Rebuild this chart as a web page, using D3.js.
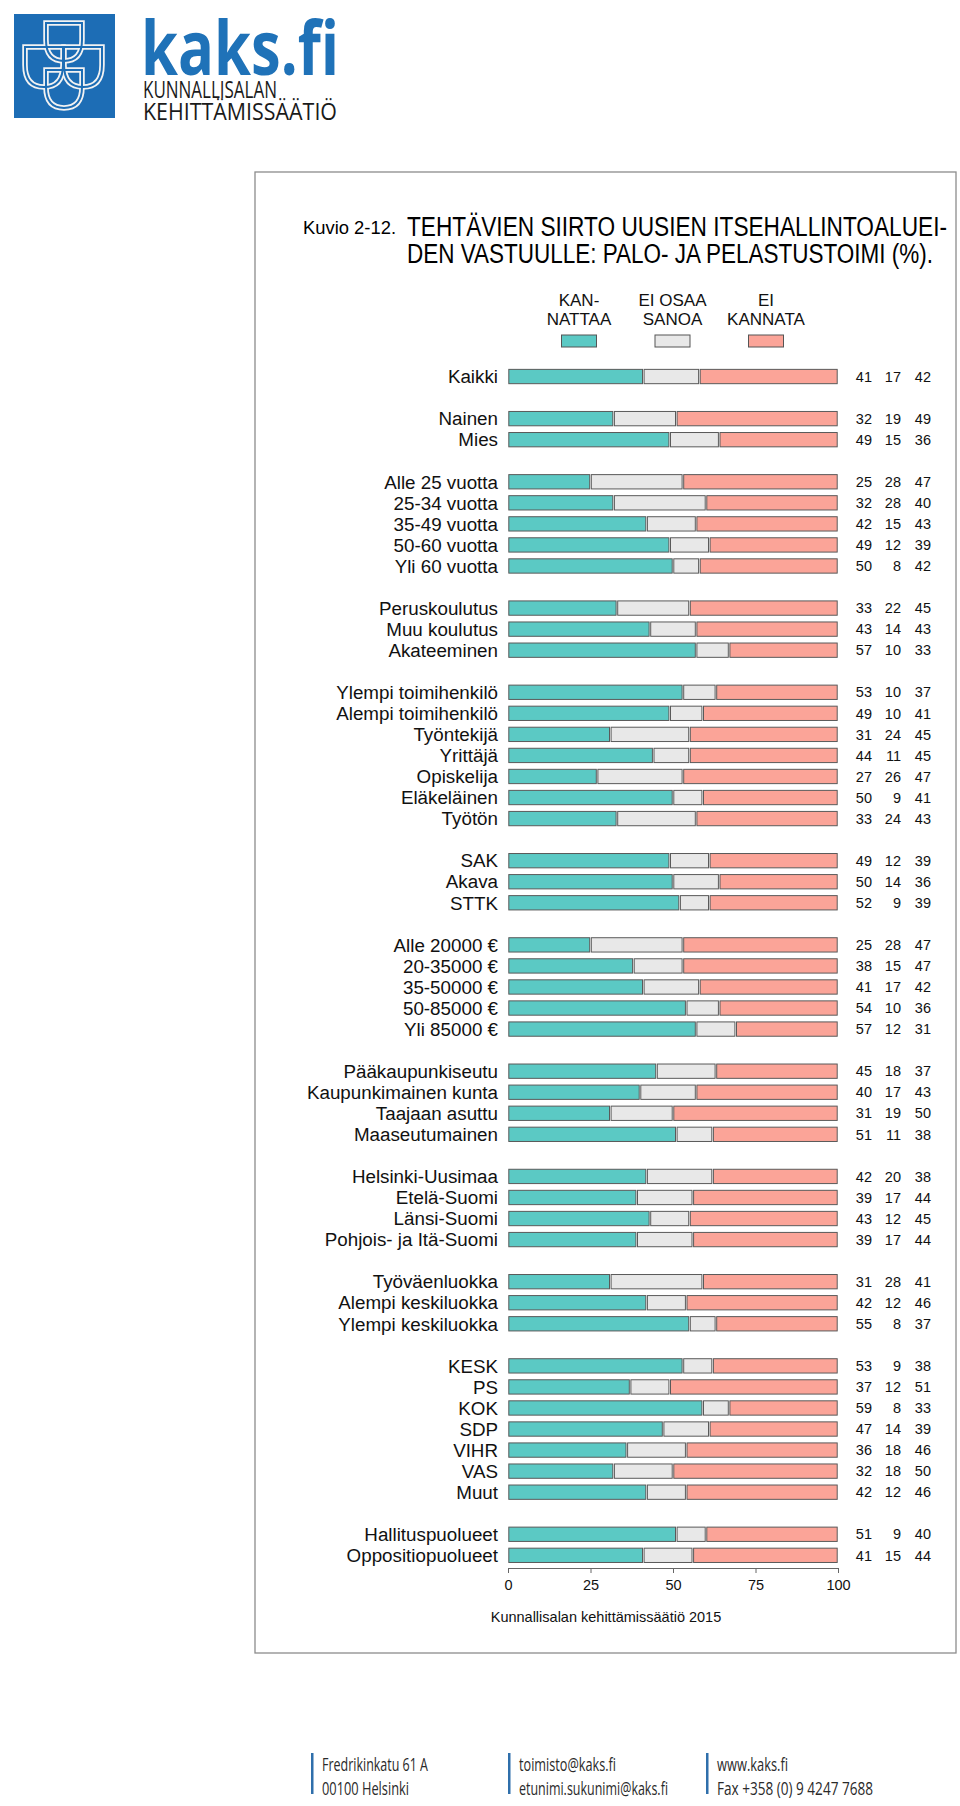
<!DOCTYPE html>
<html>
<head>
<meta charset="utf-8">
<script src="https://cdn.jsdelivr.net/npm/d3@7"></script>
<style>
  body { margin: 0; background: #fff; }
  svg { display: block; }
</style>
</head>
<body>
<svg id="chart" width="960" height="1806"></svg>
<script>
// --- data ---
const categories = [
  "Kaikki",
  "Nainen", "Mies",
  "Alle 25 vuotta", "25-34 vuotta", "35-49 vuotta", "50-60 vuotta", "Yli 60 vuotta",
  "Peruskoulutus", "Muu koulutus", "Akateeminen",
  "Ylempi toimihenkilö", "Alempi toimihenkilö", "Työntekijä", "Yrittäjä", "Opiskelija", "Eläkeläinen", "Työtön",
  "SAK", "Akava", "STTK",
  "Alle 20000 €", "20-35000 €", "35-50000 €", "50-85000 €", "Yli 85000 €",
  "Pääkaupunkiseutu", "Kaupunkimainen kunta", "Taajaan asuttu", "Maaseutumainen",
  "Helsinki-Uusimaa", "Etelä-Suomi", "Länsi-Suomi", "Pohjois- ja Itä-Suomi",
  "Työväenluokka", "Alempi keskiluokka", "Ylempi keskiluokka",
  "KESK", "PS", "KOK", "SDP", "VIHR", "VAS", "Muut",
  "Hallituspuolueet", "Oppositiopuolueet"
];
const kannattaa = [41, 32, 49, 25, 32, 42, 49, 50, 33, 43, 57, 53, 49, 31, 44, 27, 50, 33, 49, 50, 52,
  25, 38, 41, 54, 57, 45, 40, 31, 51, 42, 39, 43, 39, 31, 42, 55, 53, 37, 59, 47, 36, 32, 42, 51, 41];
const eiOsaaSanoa = [17, 19, 15, 28, 28, 15, 12, 8, 22, 14, 10, 10, 10, 24, 11, 26, 9, 24, 12, 14, 9,
  28, 15, 17, 10, 12, 18, 17, 19, 11, 20, 17, 12, 17, 28, 12, 8, 9, 12, 8, 14, 18, 18, 12, 9, 15];
const eiKannata = [42, 49, 36, 47, 40, 43, 39, 42, 45, 43, 33, 37, 41, 45, 45, 47, 41, 43, 39, 36, 39,
  47, 47, 42, 36, 31, 37, 43, 50, 38, 38, 44, 45, 44, 41, 46, 37, 38, 51, 33, 39, 46, 50, 46, 40, 44];
const groupSizes = [1, 2, 5, 3, 7, 3, 5, 4, 4, 3, 7, 2];
const seriesKeys = ["k", "e", "n"];
const seriesLabels = [["KAN-", "NATTAA"], ["EI OSAA", "SANOA"], ["EI", "KANNATA"]];
const seriesColors = ["#5bc9c4", "#e8e8e8", "#fba498"];
const xTicks = [0, 25, 50, 75, 100];

const svg = d3.select("#chart");
const narrow = "'Liberation Sans Narrow', 'Arial Narrow', 'Liberation Sans', Arial, sans-serif";
const sans = "'Liberation Sans', Arial, sans-serif";

// each group followed by one empty slot
const slots = [];
let s = 0;
groupSizes.forEach(n => { for (let i = 0; i < n; i++) slots.push(s++); s++; });
const nSlots = s - 1;

const rows = categories.map((c, i) => ({ name: c, slot: slots[i], k: kannattaa[i], e: eiOsaaSanoa[i], n: eiKannata[i] }));

const x = d3.scaleLinear().domain([0, 100]).range([508, 838]);
const step = 21.05;
const y = d3.scaleBand()
  .domain(d3.range(nSlots))
  .range([366, 366 + nSlots * step])
  .paddingInner(0.32)
  .paddingOuter(0.16);

// --- logo ---
const logo = svg.append("g");
logo.append("rect").attr("x", 14).attr("y", 14).attr("width", 101).attr("height", 104).attr("fill", "#1d6db5");
function shield(x0, y0, w, h) {
  return `M${x0},${y0}H${x0 + w}V${y0 + h * 0.45}Q${x0 + w},${y0 + h} ${x0 + w / 2},${y0 + h}Q${x0},${y0 + h} ${x0},${y0 + h * 0.45}Z`;
}
const shields = [[46, 23, 36, 38], [25, 47, 38, 40], [64, 47, 38, 40], [46, 70, 36, 38]];
logo.selectAll("path.sh").data(shields).enter().append("path")
  .attr("d", d => shield(...d)).attr("fill", "none").attr("stroke", "#f2f2f2").attr("stroke-width", 5.5);
logo.selectAll("path.in").data(shields).enter().append("path")
  .attr("d", d => shield(...d)).attr("fill", "none").attr("stroke", "#1d6db5").attr("stroke-width", 2);
logo.append("text").attr("x", 141).attr("y", 75).attr("textLength", 198).attr("lengthAdjust", "spacingAndGlyphs")
  .style("font-family", "'Open Sans', 'Noto Sans', sans-serif").style("font-weight", 700)
  .style("font-size", "76px").attr("fill", "#1f72b8").text("kaks.fi");
logo.append("text").attr("x", 143).attr("y", 98).attr("textLength", 134).attr("lengthAdjust", "spacingAndGlyphs")
  .style("font-family", "'Open Sans', sans-serif").style("font-size", "24px").attr("fill", "#1a1a1a").text("KUNNALLISALAN");
logo.append("text").attr("x", 143).attr("y", 120).attr("textLength", 194).attr("lengthAdjust", "spacingAndGlyphs")
  .style("font-family", "'Open Sans', sans-serif").style("font-size", "24px").attr("fill", "#1a1a1a").text("KEHITTÄMISSÄÄTIÖ");

// --- frame ---
svg.append("rect").attr("x", 255).attr("y", 172).attr("width", 701).attr("height", 1481)
  .attr("fill", "none").attr("stroke", "#8c8c8c").attr("stroke-width", 1.3);

// --- title ---
svg.append("text").attr("x", 303).attr("y", 234).attr("textLength", 93).attr("lengthAdjust", "spacingAndGlyphs")
  .style("font-family", narrow).style("font-size", "18.5px").text("Kuvio 2-12.");
svg.append("text").attr("x", 407).attr("y", 236).attr("textLength", 540).attr("lengthAdjust", "spacingAndGlyphs")
  .style("font-family", narrow).style("font-size", "27px").text("TEHTÄVIEN SIIRTO UUSIEN ITSEHALLINTOALUEI-");
svg.append("text").attr("x", 407).attr("y", 263).attr("textLength", 526).attr("lengthAdjust", "spacingAndGlyphs")
  .style("font-family", narrow).style("font-size", "27px").text("DEN VASTUULLE: PALO- JA PELASTUSTOIMI (%).");

// --- legend ---
const legendX = d3.scalePoint().domain(seriesKeys).range([579, 766]);
const legend = svg.append("g").selectAll("g").data(seriesKeys).enter().append("g");
legend.append("rect")
  .attr("x", d => legendX(d) - 17.5).attr("y", 335).attr("width", 35).attr("height", 12)
  .attr("fill", (d, i) => seriesColors[i]).attr("stroke", "#555").attr("stroke-width", 1);
legend.selectAll("text").data((d, i) => seriesLabels[i].map(t => ({ t, key: d }))).enter().append("text")
  .attr("x", d => legendX(d.key)).attr("y", (d, j) => 306 + j * 18.5)
  .attr("text-anchor", "middle").style("font-family", narrow).style("font-size", "17px").attr("fill", "#111")
  .text(d => d.t);

// --- bars ---
const stacked = d3.stack().keys(seriesKeys)(rows);
svg.append("g").selectAll("g").data(stacked).enter().append("g")
  .attr("fill", (d, i) => seriesColors[i])
  .selectAll("rect").data(d => d).enter().append("rect")
  .attr("x", d => x(d[0]) + 0.8)
  .attr("width", d => Math.max(0, x(d[1]) - x(d[0]) - 1.6))
  .attr("y", d => y(d.data.slot))
  .attr("height", y.bandwidth())
  .attr("stroke", "#5a5a5a").attr("stroke-width", 1);

// row labels
svg.append("g").selectAll("text").data(rows).enter().append("text")
  .attr("x", 498).attr("y", d => y(d.slot) + y.bandwidth() / 2).attr("dy", "0.36em")
  .attr("text-anchor", "end").style("font-family", sans).style("font-size", "18.8px").attr("fill", "#111")
  .text(d => d.name);

// value columns
const colX = d3.scaleOrdinal().domain(seriesKeys).range([872, 901, 931]);
svg.append("g").selectAll("g").data(rows).enter().append("g")
  .selectAll("text").data(d => seriesKeys.map(k => ({ k, v: d[k], slot: d.slot }))).enter().append("text")
  .attr("x", d => colX(d.k)).attr("y", d => y(d.slot) + y.bandwidth() / 2).attr("dy", "0.36em")
  .attr("text-anchor", "end").style("font-family", sans).style("font-size", "14.5px").attr("fill", "#111")
  .text(d => d.v);

// --- axis ---
const axis = svg.append("g").attr("transform", "translate(0,1568)")
  .call(d3.axisBottom(x).tickValues(xTicks).tickSize(5).tickSizeOuter(0).tickPadding(7));
axis.select(".domain").attr("stroke", "#666");
axis.selectAll(".tick line").attr("stroke", "#666");
axis.selectAll(".tick text").style("font-family", sans).style("font-size", "14.5px").attr("fill", "#111");

svg.append("text").attr("x", 606).attr("y", 1622).attr("text-anchor", "middle")
  .style("font-family", sans).style("font-size", "14.5px").attr("fill", "#111")
  .text("Kunnallisalan kehittämissäätiö 2015");

// --- footer ---
const footer = [
  { x: 311, lines: [["Fredrikinkatu 61 A", 106], ["00100 Helsinki", 87]] },
  { x: 508, lines: [["toimisto@kaks.fi", 97], ["etunimi.sukunimi@kaks.fi", 149]] },
  { x: 706, lines: [["www.kaks.fi", 71], ["Fax +358 (0) 9 4247 7688", 156]] }
];
const fg = svg.append("g").selectAll("g").data(footer).enter().append("g");
fg.append("rect").attr("x", d => d.x).attr("y", 1753).attr("width", 2.5).attr("height", 41).attr("fill", "#2f6fab");
fg.selectAll("text").data(d => d.lines.map(l => ({ x: d.x + 11, t: l[0], w: l[1] }))).enter().append("text")
  .attr("x", d => d.x).attr("y", (d, j) => 1771 + j * 24)
  .attr("textLength", d => d.w).attr("lengthAdjust", "spacingAndGlyphs")
  .style("font-family", "'Open Sans', sans-serif").style("font-size", "19px").attr("fill", "#2a2a2a")
  .text(d => d.t);
</script>
</body>
</html>
